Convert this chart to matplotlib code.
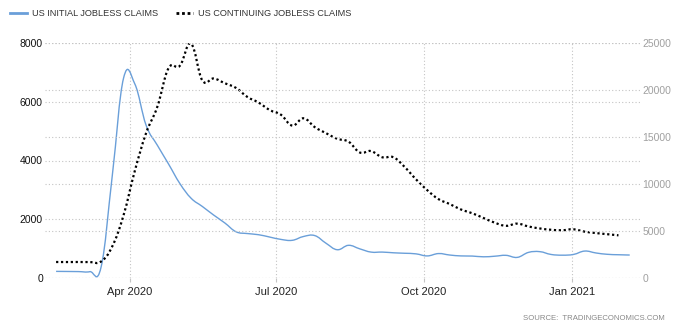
import numpy as np
import pandas as pd
import matplotlib
matplotlib.use("Agg")
import matplotlib.pyplot as plt
import matplotlib.dates as mdates
from matplotlib.path import Path
from matplotlib.patches import PathPatch
from matplotlib.lines import Line2D

# weekly claims, thousands
semanas_iniciales = pd.date_range("2020-02-15", periods=52, freq="7D")
semanas_continuas = semanas_iniciales[:51]

reclamos_iniciales = [
    235, 232, 228, 225, 380, 3500, 6800,
    6600, 5200, 4520, 3880,
    3220, 2720, 2440, 2150, 1880,
    1580, 1520, 1480, 1400,
    1320, 1290, 1420, 1450,
    1190, 970, 1120, 1000, 890,
    890, 866, 850, 830,
    760, 840, 790, 760, 755,
    730, 750, 780, 710,
    880, 905, 810, 785,
    810, 925, 860, 815, 800,
    790,
]

reclamos_continuos = [
    1730, 1725, 1730, 1725, 1780, 3400, 6700,
    11400, 15400, 18200, 22300,
    22550, 24900, 21000, 21200, 20700,
    20200, 19250, 18650, 17850,
    17350, 16200, 16980, 16040,
    15400, 14800, 14500, 13350, 13500,
    12840, 12840, 11800, 10500,
    9350, 8400, 7880, 7300, 6900,
    6400, 5900, 5570, 5800,
    5500, 5290, 5150, 5100,
    5200, 4950, 4800, 4680, 4560,
]

ticks_izq = [0, 2000, 4000, 6000, 8000]
ticks_der = [0, 5000, 10000, 15000, 20000, 25000]

AZUL = "#6a9fd9"
GRILLA = "#c4c4c4"


def curva_spline(fechas, valores, suavizado=1.5):
    # spline con puntos de control locales (estilo highcharts, sin recorte)
    x = mdates.date2num(fechas.to_pydatetime())
    y = np.asarray(valores, dtype=float)
    n = len(x)
    izq = [(x[0], y[0])] * n
    der = [(x[0], y[0])] * n
    den = suavizado + 1
    for i in range(n):
        if i == 0 or i == n - 1:
            izq[i] = der[i] = (x[i], y[i])
            continue
        lx = (suavizado * x[i] + x[i - 1]) / den
        ly = (suavizado * y[i] + y[i - 1]) / den
        rx = (suavizado * x[i] + x[i + 1]) / den
        ry = (suavizado * y[i] + y[i + 1]) / den
        corr = (ry - ly) * (rx - x[i]) / (rx - lx) + y[i] - ry
        izq[i] = (lx, ly + corr)
        der[i] = (rx, ry + corr)
    verts = [(x[0], y[0])]
    codes = [Path.MOVETO]
    for i in range(1, n):
        verts += [der[i - 1], izq[i], (x[i], y[i])]
        codes += [Path.CURVE4] * 3
    return Path(verts, codes)


fig = plt.figure(figsize=(6.81, 3.29), dpi=100)
ax = fig.add_axes([45 / 681, 50.7 / 329, 595 / 681, 235.6 / 329])
ax2 = ax.twinx()

ax.add_patch(PathPatch(curva_spline(semanas_iniciales, reclamos_iniciales),
                       fill=False, edgecolor=AZUL, lw=1.0))
ax2.add_patch(PathPatch(curva_spline(semanas_continuas, reclamos_continuos),
                        fill=False, edgecolor="black", lw=1.6,
                        linestyle=(0, (1, 1.2)), capstyle="butt"))

inicio = mdates.date2num(pd.Timestamp("2020-04-01")) - 52.9
fin = mdates.date2num(pd.Timestamp("2020-04-01")) + 317.4
ax.set_xlim(inicio, fin)
ax.set_ylim(0, 8000)
ax2.set_ylim(0, 25000)

ax.xaxis.set_major_locator(mdates.MonthLocator(bymonth=[1, 4, 7, 10]))
ax.xaxis.set_major_formatter(mdates.DateFormatter("%b %Y"))
ax.set_yticks(ticks_izq)
ax2.set_yticks(ticks_der)

for a in (ax, ax2):
    for s in a.spines.values():
        s.set_visible(False)

ax.grid(True, axis="both", color=GRILLA, linestyle=(0, (1, 2)), lw=0.8)
ax2.grid(True, axis="y", color=GRILLA, linestyle=(0, (1, 2)), lw=0.8)
ax.set_axisbelow(True)

ax.tick_params(axis="x", length=3, color=GRILLA, pad=3, labelsize=8,
               labelcolor="#222222")
ax.tick_params(axis="y", length=0, pad=1.5, labelsize=7.5, labelcolor="#111111")
ax2.tick_params(axis="y", length=0, pad=1.7, labelsize=7.5, labelcolor="#a0a0a0")
for lbl in ax.get_xticklabels() + ax.get_yticklabels() + ax2.get_yticklabels():
    lbl.set_fontfamily("Liberation Sans")

handles = [Line2D([], [], color=AZUL, lw=2),
           Line2D([], [], color="black", lw=2, linestyle=(0, (1, 1)))]
fig.legend(handles, ["US INITIAL JOBLESS CLAIMS", "US CONTINUING JOBLESS CLAIMS"],
           loc="upper left", bbox_to_anchor=(10 / 681, 1 - 9 / 329), ncol=2,
           frameon=False, borderpad=0, borderaxespad=0, handlelength=1.85,
           handletextpad=0.55, columnspacing=1.95,
           prop={"family": "Liberation Sans", "size": 6.6}, labelcolor="#333333")

fig.text(665 / 681, 1 - 319 / 329, "SOURCE:  TRADINGECONOMICS.COM", ha="right",
         va="center", fontsize=5.6, color="#888888", family="Liberation Sans")

fig.savefig("out.png", dpi=100)
